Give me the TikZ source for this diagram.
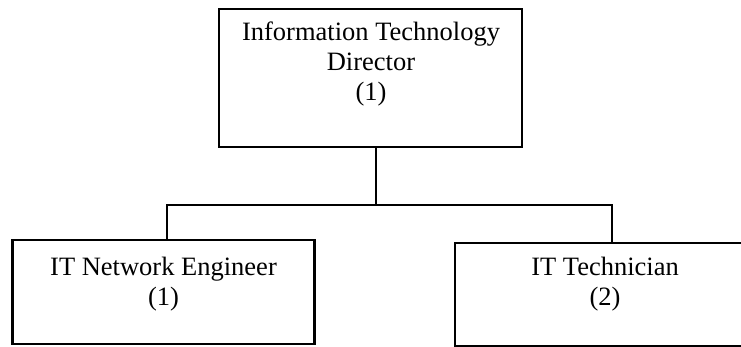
\documentclass[tikz,border=0pt]{standalone}
\usepackage{fontspec}
\setmainfont{Liberation Serif}
\begin{document}
\begin{tikzpicture}[x=1pt,y=-1pt,
  box/.style={draw, line width=2.2pt, rectangle, inner sep=0pt},
  lbl/.style={font=\fontsize{26.5}{30}\selectfont, align=center, anchor=base, inner sep=0pt},
  link/.style={line width=2.2pt}]
\useasboundingbox (0,0) rectangle (741,347);
\clip (0,0) rectangle (741,347);
% boxes
\node[box, minimum width=303pt, minimum height=138pt] (dir) at (370.5,78) {};
\node[box, minimum width=302pt, minimum height=104pt] (eng) at (163.5,292) {};
\node[box, minimum width=300pt, minimum height=103pt] (tech) at (605,294.5) {};
% labels (anchored at the baseline of the last line)
\node[lbl] (dirtxt) at (371,101) {Information Technology\\Director\\(1)};
\node[lbl] (engtxt) at (163.5,305) {IT Network Engineer\\(1)};
\node[lbl] (techtxt) at (605,305) {IT Technician\\(2)};
% connectors
\coordinate (bm) at (376,205);
\coordinate (bl) at (167,205);
\coordinate (br) at (612,205);
\draw[link] (dir.south -| bm) -- (bm);
\draw[link] (eng.north -| bl) -- (bl) -- (br) -- (tech.north -| br);
\end{tikzpicture}
\end{document}
